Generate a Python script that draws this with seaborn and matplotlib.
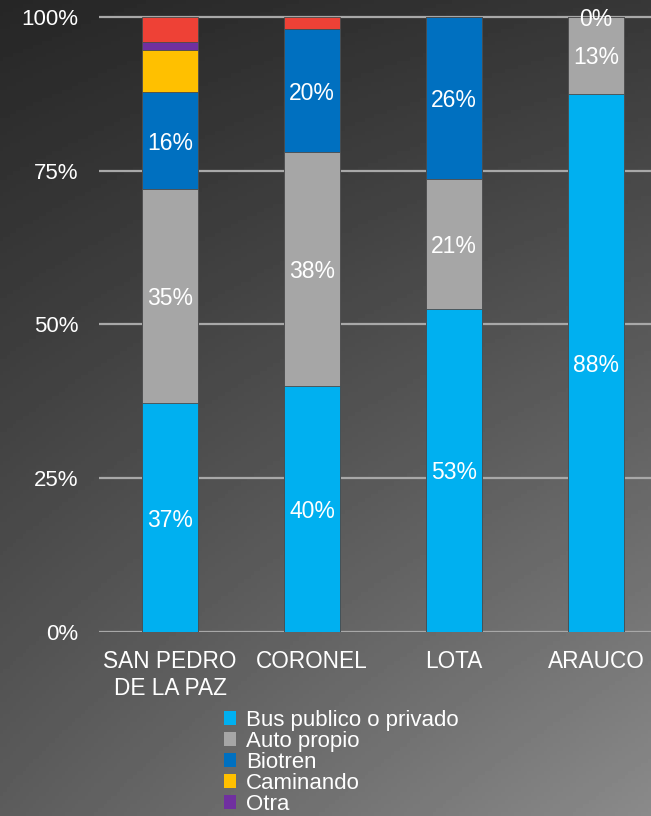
import numpy as np
import matplotlib
matplotlib.use("Agg")
import matplotlib.pyplot as plt
import seaborn as sns
from matplotlib.patches import Patch

# datos (porcentajes)
categorias = ["SAN PEDRO\nDE LA PAZ", "CORONEL", "LOTA", "ARAUCO"]
bus = [37.2, 40.0, 52.6, 87.5]
auto = [34.8, 38.0, 21.0, 12.5]
biotren = [15.8, 20.0, 26.4, 0.0]
caminando = [6.8, 0.0, 0.0, 0.0]
otra = [1.4, 0.0, 0.0, 0.0]
sin_dato = [4.0, 2.0, 0.0, 0.0]

series = ["Bus publico o privado", "Auto propio", "Biotren", "Caminando", "Otra", "Sin dato"]
valores = [bus, auto, biotren, caminando, otra, sin_dato]
colores = ["#00B0F0", "#A6A6A6", "#0070C0", "#FFC000", "#7030A0", "#EE4136"]
con_etiqueta = ["Bus publico o privado", "Auto propio", "Biotren"]
en_leyenda = ["Bus publico o privado", "Auto propio", "Biotren", "Caminando", "Otra"]

sns.set_style("dark")
plt.rcParams["font.family"] = ["Liberation Sans", "DejaVu Sans"]

W, H = 651, 816
fig = plt.figure(figsize=(W / 100, H / 100), dpi=100)

# fondo degradado
bg = fig.add_axes([0, 0, 1, 1], zorder=-5)
xx, yy = np.meshgrid(np.linspace(0, 1, 200), np.linspace(0, 1, 200))
tl, tr, bl, br = 38, 55, 92, 138
v = (tl * (1 - xx) * (1 - yy) + tr * xx * (1 - yy) + bl * (1 - xx) * yy + br * xx * yy) / 255
bg.imshow(v, cmap="gray", vmin=0, vmax=1, aspect="auto", extent=[0, 1, 1, 0])
bg.set_axis_off()

# ejes: 0% en y=632px, 100% en y=17px; barras cada 142px
y0, ppu = 632, 6.15
top = 101
ax = fig.add_axes([99 / W, (H - y0) / H, 568 / W, top * ppu / H])
ax.set_facecolor("none")

acum = np.cumsum(np.array(valores), axis=0)
for i in range(len(series) - 1, -1, -1):
    sns.barplot(x=categorias, y=acum[i], color=colores[i], width=0.4,
                saturation=1, edgecolor="#4a4a4a", linewidth=0.6, ax=ax, zorder=2)

# etiquetas de porcentaje
for i, nombre in enumerate(series):
    if nombre not in con_etiqueta:
        continue
    for j in range(len(categorias)):
        val = valores[i][j]
        centro = acum[i][j] - val / 2
        ax.text(j, centro, f"{int(np.floor(val + 0.5))}%", ha="center",
                va="center_baseline", color="white", fontsize=16.5, zorder=3)

ax.set_ylim(0, top)
ax.set_xlim(-0.5, 3.5)
ax.set_yticks([0, 25, 50, 75, 100])
ax.set_yticklabels(["0%", "25%", "50%", "75%", "100%"])
ax.yaxis.grid(True, color="#a8a8a8", lw=1.6)
ax.xaxis.grid(False)
ax.set_axisbelow(True)
for s in ax.spines.values():
    s.set_visible(False)
ax.tick_params(axis="y", length=0, pad=15, labelsize=16, labelcolor="white")
ax.tick_params(axis="x", length=0, pad=13, labelsize=16.3, labelcolor="white")
ax.set_xlabel("")
ax.set_ylabel("")

handles = [Patch(facecolor=colores[series.index(n)], edgecolor="none", label=n) for n in en_leyenda]
leg = fig.legend(handles=handles, loc="upper left", bbox_to_anchor=(224 / W, 1 - 710 / H),
                 frameon=False, fontsize=16, labelcolor="white", handlelength=0.55,
                 handleheight=0.55, handletextpad=0.45, labelspacing=0.0,
                 borderpad=0, borderaxespad=0)

fig.savefig("out.png", dpi=100)
